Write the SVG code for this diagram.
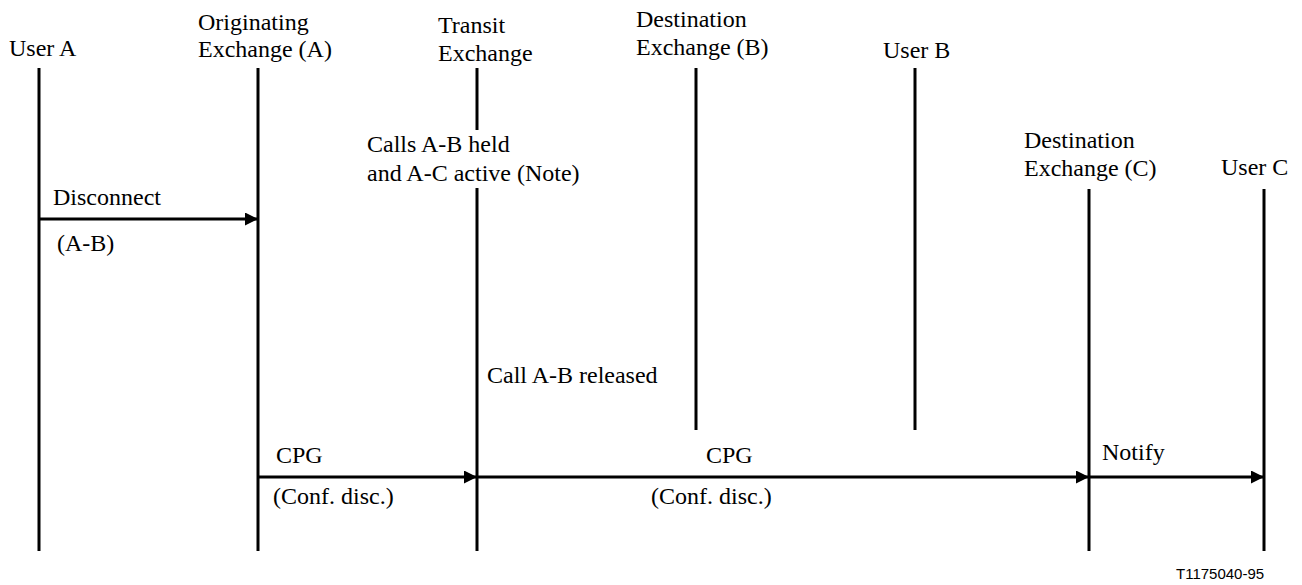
<svg xmlns="http://www.w3.org/2000/svg" width="1302" height="585" viewBox="0 0 1302 585">
<style>
  .t { font-family: "Liberation Serif", "Times New Roman", serif; font-size: 24px; fill: #000; }
  .id { font-family: "Liberation Sans", Arial, sans-serif; font-size: 15px; fill: #000; }
  .ll { stroke: #000; stroke-width: 3; fill: none; }
  .msg { stroke: #000; stroke-width: 3; fill: none; marker-end: url(#ah); }
</style>
<defs>
  <marker id="ah" viewBox="0 0 13 13" refX="13" refY="6.5" markerWidth="13" markerHeight="13" markerUnits="userSpaceOnUse" orient="auto">
    <path d="M0,0 L13,6.5 L0,13 z" fill="#000"/>
  </marker>
</defs>
<rect width="1302" height="585" fill="#fff"/>

<g id="userA">
  <text class="t" x="9" y="56">User A</text>
  <line class="ll" x1="39" y1="68" x2="39" y2="551"/>
</g>
<g id="origExchangeA">
  <text class="t" x="198" y="30">Originating</text>
  <text class="t" x="198" y="57">Exchange (A)</text>
  <line class="ll" x1="258" y1="68" x2="258" y2="551"/>
</g>
<g id="transitExchange">
  <text class="t" x="438" y="33">Transit</text>
  <text class="t" x="438" y="61">Exchange</text>
  <line class="ll" x1="477" y1="68" x2="477" y2="130"/>
  <text class="t" x="367" y="152">Calls A-B held</text>
  <text class="t" x="367" y="181">and A-C active (Note)</text>
  <line class="ll" x1="477" y1="188" x2="477" y2="551"/>
  <text class="t" x="487" y="383">Call A-B released</text>
</g>
<g id="destExchangeB">
  <text class="t" x="636" y="27">Destination</text>
  <text class="t" x="636" y="55">Exchange (B)</text>
  <line class="ll" x1="696" y1="68" x2="696" y2="430"/>
</g>
<g id="userB">
  <text class="t" x="883" y="58">User B</text>
  <line class="ll" x1="915" y1="68" x2="915" y2="430"/>
</g>
<g id="destExchangeC">
  <text class="t" x="1024" y="148">Destination</text>
  <text class="t" x="1024" y="176">Exchange (C)</text>
  <line class="ll" x1="1089" y1="189" x2="1089" y2="551"/>
</g>
<g id="userC">
  <text class="t" x="1221" y="175">User C</text>
  <line class="ll" x1="1264" y1="189" x2="1264" y2="551"/>
</g>

<g id="connectors">
  <line class="msg" x1="39" y1="219" x2="258" y2="219"/>
  <text class="t" x="53" y="205">Disconnect</text>
  <text class="t" x="57" y="251">(A-B)</text>

  <line class="msg" x1="258" y1="477" x2="477" y2="477"/>
  <text class="t" x="276" y="463">CPG</text>
  <text class="t" x="273" y="504">(Conf. disc.)</text>

  <line class="msg" x1="477" y1="477" x2="1089" y2="477"/>
  <text class="t" x="706" y="463">CPG</text>
  <text class="t" x="651" y="504">(Conf. disc.)</text>

  <line class="msg" x1="1089" y1="477" x2="1264" y2="477"/>
  <text class="t" x="1102" y="460">Notify</text>
</g>

<text class="id" x="1176" y="579">T1175040-95</text>
</svg>
